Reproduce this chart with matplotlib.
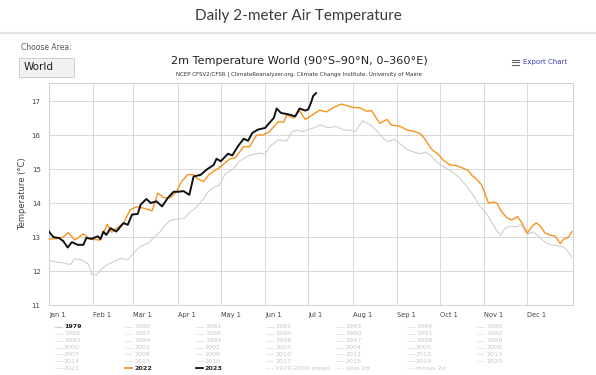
import numpy as np
import matplotlib
matplotlib.use("Agg")
import matplotlib.pyplot as plt
from matplotlib.lines import Line2D
from matplotlib.patches import Rectangle

# day-of-year (0 = Jan 1) and 2 m air temperature (degC)
days_1979 = [0, 4, 10, 15, 18, 23, 27.5, 30, 33, 36, 40, 45, 50, 55, 59, 63.5, 69, 73, 77.5, 81,
             84.5, 89, 95, 98.5, 103, 108, 111, 115, 119, 123, 129, 133, 140, 147, 151, 154, 160,
             166, 170, 173, 177.6, 180, 184.6, 189, 195, 201, 205.5, 210, 214, 219, 225, 230,
             233.5, 237, 241, 245, 250, 254.5, 259, 263, 266, 271, 276, 280, 287, 291.5, 296, 301,
             305.5, 309, 312.5, 315.5, 318.5, 322, 326.7, 329.5, 334, 338.5, 343, 347.7, 352.4,
             357, 359.4, 361.7, 365.2]
temp_1979 = [12.32, 12.27, 12.24, 12.19, 12.36, 12.33, 12.2, 11.9, 11.88, 12.03, 12.17, 12.27, 12.37,
             12.33, 12.52, 12.72, 12.81, 12.97, 13.15, 13.34, 13.49, 13.52, 13.56, 13.73, 13.88,
             14.12, 14.33, 14.46, 14.53, 14.85, 15.01, 15.23, 15.4, 15.47, 15.43, 15.65, 15.86,
             15.82, 16.1, 16.14, 16.1, 16.15, 16.2, 16.3, 16.22, 16.25, 16.15, 16.14, 16.1, 16.42,
             16.28, 16.08, 15.9, 15.8, 15.88, 15.75, 15.58, 15.5, 15.45, 15.5, 15.42, 15.2, 15.06,
             14.97, 14.73, 14.5, 14.25, 13.9, 13.7, 13.45, 13.2, 13.05, 13.25, 13.32, 13.3, 13.36,
             13.08, 13.15, 12.98, 12.81, 12.76, 12.73, 12.7, 12.62, 12.4]

days_2022 = [0, 5, 10, 13.5, 18, 24, 28.6, 35.6, 40.7, 43.8, 47, 52, 56.6, 61, 66, 72, 76, 80, 84.5,
             89, 92.6, 97, 101, 103, 108, 112, 119, 126, 130, 136, 140, 145, 149.6, 154, 160, 164,
             166, 171, 175, 179, 182.5, 189, 194, 198.6, 204.4, 209, 213, 217, 222, 225.3, 231,
             236, 239.3, 245, 250, 255.6, 260, 263, 265, 268, 272, 275.4, 280, 284.7, 289.4, 293,
             295.2, 298.7, 302.2, 304.5, 306.9, 310.4, 312.7, 316.2, 319.7, 323.2, 327.2, 330.2,
             334.2, 337.2, 340.3, 343.1, 346.6, 350.1, 353.6, 357.1, 359.4, 362.9, 365.2]
temp_2022 = [12.94, 12.95, 13.0, 13.13, 12.91, 13.09, 12.94, 12.91, 13.37, 13.14, 13.25, 13.4, 13.79,
             13.89, 13.85, 13.77, 14.29, 14.16, 14.15, 14.33, 14.63, 14.84, 14.83, 14.73, 14.63,
             14.85, 15.04, 15.29, 15.33, 15.66, 15.65, 16.0, 16.0, 16.1, 16.39, 16.38, 16.59, 16.5,
             16.72, 16.46, 16.55, 16.73, 16.68, 16.81, 16.91, 16.85, 16.81, 16.8, 16.7, 16.72,
             16.34, 16.46, 16.29, 16.26, 16.15, 16.1, 16.02, 15.85, 15.72, 15.55, 15.43, 15.26,
             15.12, 15.1, 15.02, 14.95, 14.82, 14.7, 14.53, 14.28, 14.0, 14.03, 14.0, 13.74, 13.57,
             13.5, 13.6, 13.42, 13.11, 13.3, 13.42, 13.32, 13.11, 13.06, 13.02, 12.81, 12.93, 13.0,
             13.16]

days_2023 = [0, 3, 7, 10, 13, 16, 20, 24, 26, 30, 34, 36, 38, 40, 43, 47, 52, 55, 58, 62, 64, 68, 71,
             75, 79, 83, 87, 90, 94, 98, 101, 106, 110, 115, 117, 120, 125, 128, 132, 136, 139, 142,
             146, 151, 154, 157, 159, 162, 168, 172, 175, 179, 181, 183, 184.5, 186.5]
temp_2023 = [13.16, 13.0, 12.97, 12.88, 12.69, 12.85, 12.77, 12.77, 12.97, 12.95, 13.02, 12.94, 13.16,
             13.06, 13.26, 13.16, 13.41, 13.36, 13.66, 13.68, 13.95, 14.12, 14.0, 14.05, 13.9, 14.15,
             14.33, 14.33, 14.35, 14.24, 14.78, 14.83, 14.98, 15.12, 15.3, 15.23, 15.45, 15.4,
             15.67, 15.89, 15.83, 16.06, 16.16, 16.21, 16.36, 16.5, 16.78, 16.65, 16.6, 16.55,
             16.78, 16.72, 16.75, 16.95, 17.15, 17.23]

month_days = [0, 31, 59, 90, 120, 151, 181, 212, 243, 273, 304, 334]
month_labels = ["Jan 1", "Feb 1", "Mar 1", "Apr 1", "May 1", "Jun 1",
                "Jul 1", "Aug 1", "Sep 1", "Oct 1", "Nov 1", "Dec 1"]
y_ticks = [11, 12, 13, 14, 15, 16, 17]

legend_years = list(range(1979, 2024))
legend_extra = ["1979-2000 mean", "plus 2\u03c3", "minus 2\u03c3"]
shown = {1979: "#cfcfcf", 2022: "#f7931e", 2023: "#111111"}

W, H = 596, 375


def fx(x):
    return x / W


def fy(y):
    return 1 - y / H


fig = plt.figure(figsize=(W / 100, H / 100), dpi=100)
fig.patch.set_facecolor("white")

# page header
fig.text(fx(298), fy(16), "Daily 2-meter Air Temperature", ha="center", va="center",
         fontsize=11, color="#3c3c3c", family="Lato")
fig.add_artist(Line2D([0, 1], [fy(33), fy(33)], color="#e4e4e4", lw=1.5))
fig.text(fx(21), fy(48), "Choose Area:", ha="left", va="center", fontsize=5.5, color="#555555")
fig.add_artist(Rectangle((fx(19), fy(77)), fx(55), 19 / H, facecolor="#f1f1f1",
                         edgecolor="#c8c8c8", lw=0.6))
fig.text(fx(24), fy(67.5), "World", ha="left", va="center", fontsize=7.5, color="#222222")

# chart titles
fig.text(fx(299), fy(61), "2m Temperature World (90\u00b0S\u201390\u00b0N, 0\u2013360\u00b0E)",
         ha="center", va="center", fontsize=8.1, color="#222222")
fig.text(fx(299), fy(74), "NCEP CFSV2/CFSR | ClimateReanalyzer.org, Climate Change Institute, "
         "University of Maine", ha="center", va="center", fontsize=4.0, color="#333333")
for yy in (59.5, 62, 64.5):
    fig.add_artist(Line2D([fx(512), fx(519)], [fy(yy), fy(yy)], color="#666666", lw=0.8))
fig.text(fx(523), fy(62), "Export Chart", ha="left", va="center", fontsize=5, color="#3a3ab0")

# plot area
ax = fig.add_axes([fx(49), fy(305), fx(573) - fx(49), fy(83) - fy(305)])
ax.plot(days_1979, temp_1979, color=shown[1979], lw=0.8, zorder=3)
ax.plot(days_2022, temp_2022, color=shown[2022], lw=1.0, zorder=4)
ax.plot(days_2023, temp_2023, color=shown[2023], lw=1.4, zorder=5)

ax.set_xlim(0, 366)
ax.set_ylim(11, 17.53)
ax.set_xticks(month_days)
ax.set_xticklabels(month_labels, ha="left", fontsize=4.8, color="#444444")
ax.set_yticks(y_ticks)
ax.set_yticklabels([str(v) for v in y_ticks], fontsize=5, color="#444444")
ax.tick_params(axis="both", length=0)
ax.tick_params(axis="x", pad=5)
ax.tick_params(axis="y", pad=6)
ax.grid(True, color="#d8d8d8", lw=0.7, zorder=0)
for sp in ax.spines.values():
    sp.set_color("#d0d0d0")
    sp.set_linewidth(0.7)
ax.set_ylabel("Temperature (\u00b0C)", fontsize=6, color="#444444", labelpad=3)

# legend, 7 columns
items = [str(y) for y in legend_years] + legend_extra
for i, name in enumerate(items):
    r, c = divmod(i, 7)
    x0 = 55 + 70.4 * c
    y0 = 327 + 6.85 * r
    year = int(name) if name.isdigit() else None
    if year in shown:
        col = shown[year]
        txt_col = "#222222"
        weight = "bold"
        lw = 0.8 if year == 1979 else 1.3
        ls = "-"
    else:
        col = "#e2e2e2"
        txt_col = "#c8c8c8"
        weight = "normal"
        lw = 0.6
        ls = "--" if year is None else "-"
    fig.add_artist(Line2D([fx(x0), fx(x0 + 7)], [fy(y0), fy(y0)], color=col, lw=lw, ls=ls))
    fig.text(fx(x0 + 9), fy(y0), name, ha="left", va="center", fontsize=4.6,
             color=txt_col, fontweight=weight)

fig.savefig("out.png", dpi=100)
